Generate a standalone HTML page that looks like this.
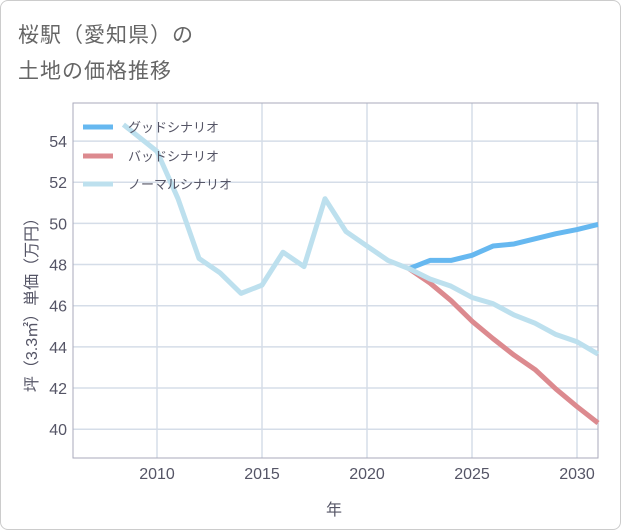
<!DOCTYPE html>
<html><head><meta charset="utf-8"><style>
body{margin:0;background:#fff;font-family:"Liberation Sans","Noto Sans CJK JP",sans-serif}
#wrap{position:relative;width:619px;height:528px;border:1px solid #ccc;border-radius:8px;overflow:hidden}
.t{position:absolute;left:17px;font-size:21px;color:#666;letter-spacing:1px}
</style></head><body>
<div id="wrap">
<div class="t" style="top:18px">桜駅（愛知県）の</div>
<div class="t" style="top:54px">土地の価格推移</div>
<svg id="c" width="621" height="530" style="position:absolute;left:0;top:0"></svg>
</div>
<script>
const years=[2008.4,2010,2011,2012,2013,2014,2015,2016,2017,2018,2019,2020,2021,2022];
const hist=[54.8,53.5,51.2,48.3,47.6,46.6,47.0,48.6,47.9,51.2,49.6,48.9,48.2,47.8];
const fYears=[2022,2023,2024,2025,2026,2027,2028,2029,2030,2031];
const good=[47.8,48.2,48.2,48.45,48.9,49.0,49.25,49.5,49.7,49.95];
const bad=[47.8,47.1,46.25,45.25,44.4,43.6,42.9,41.95,41.1,40.3];
const normal=[47.8,47.3,46.95,46.4,46.1,45.55,45.15,44.6,44.25,43.65];
const xTicks=[2010,2015,2020,2025,2030];
const yTicks=[40,42,44,46,48,50,52,54];
const X0=72,X1=597,Y0=102,Y1=457;
const x=v=>X0+(v-2006)/(2031-2006)*(X1-X0);
const y=v=>Y1-(v-38.6)/(55.85-38.6)*(Y1-Y0);
const svg=document.getElementById('c');const NS='http://www.w3.org/2000/svg';
function mk(t,a){const e=document.createElementNS(NS,t);for(const k in a)e.setAttribute(k,a[k]);svg.appendChild(e);return e;}
xTicks.forEach(v=>{const g=mk('line',{x1:x(v),x2:x(v),y1:Y0,y2:Y1,stroke:'#d5dde8','stroke-width':1.5});


const t=mk('text',{x:x(v),y:478,'text-anchor':'middle','font-size':16,fill:'#556'});t.textContent=v;

});
yTicks.forEach(v=>{const g=mk('line',{x1:X0,x2:X1,y1:y(v),y2:y(v),stroke:'#d5dde8','stroke-width':1.5});


const t=mk('text',{x:66,y:y(v)+6,'text-anchor':'end','font-size':16,fill:'#556'});t.textContent=v;

});
const fr=mk('rect',{x:X0,y:Y0,width:X1-X0,height:Y1-Y0,fill:'none',stroke:'#aab','stroke-width':1});


function line(xs,vs,col,name){const p=mk('polyline',{points:xs.map((v,i)=>x(v)+','+y(vs[i])).join(' '),fill:'none',stroke:col,'stroke-width':5,'stroke-linejoin':'round'});

}
line(fYears,good,'#66b8f0','good-scenario-line');
line(fYears,bad,'#dc8a8f','bad-scenario-line');
line(years.concat(fYears.slice(1)),hist.concat(normal.slice(1)),'#bde0ee','normal-scenario-line');
[['グッドシナリオ','#66b8f0',126],['バッドシナリオ','#dc8a8f',155],['ノーマルシナリオ','#bde0ee',183]].forEach(l=>{
const r=mk('line',{x1:82,x2:112,y1:l[2],y2:l[2],stroke:l[1],'stroke-width':5});


const t=mk('text',{x:127,y:l[2]+5,'font-size':13,fill:'#556'});t.textContent=l[0];

});
const xt=mk('text',{x:333,y:514,'text-anchor':'middle','font-size':16,fill:'#556'});xt.textContent='年';


const yt=mk('text',{x:0,y:0,'text-anchor':'middle','font-size':16,fill:'#556',transform:'translate(36,300) rotate(-90)'});yt.textContent='坪（3.3㎡）単価（万円）';


</script>
</body></html>
